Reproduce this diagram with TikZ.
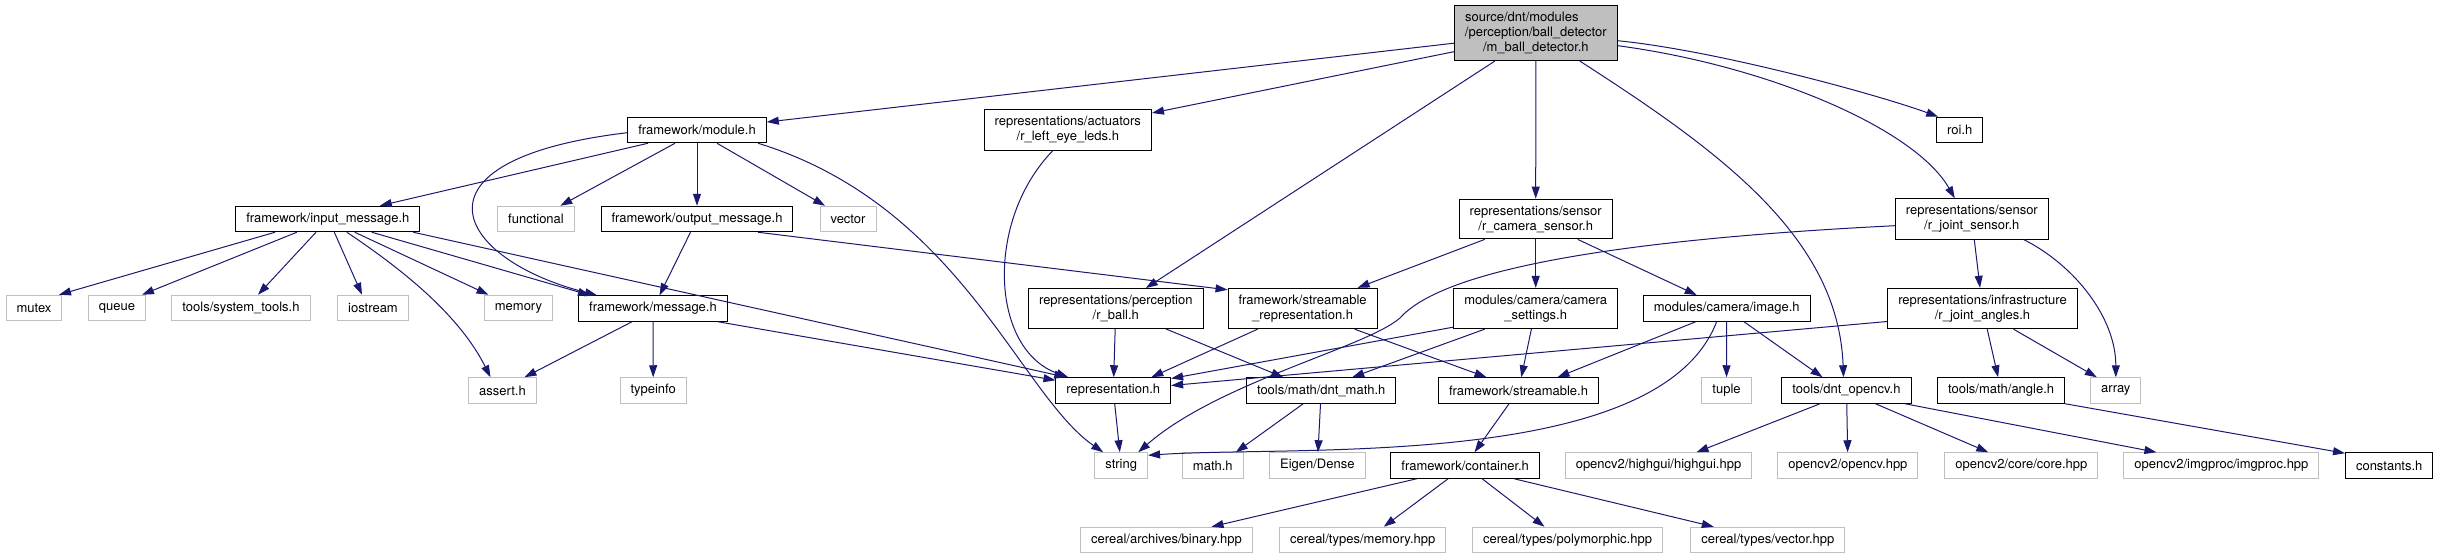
\documentclass[tikz,border=0pt]{standalone}
\usepackage{fontspec}
\setmainfont{TeX Gyre Heros}
\usetikzlibrary{arrows.meta}
\definecolor{edgeblue}{HTML}{191970}
\definecolor{grey75}{HTML}{BFBFBF}

\begin{document}
\begin{tikzpicture}[x=1pt,y=-1pt,
  file/.style={rectangle,draw=black,fill=white,line width=1pt,
               inner xsep=10.5pt,inner ysep=6.5pt,minimum height=25.5pt,
               align=center,font=\fontsize{13}{15}\selectfont},
  sysfile/.style={file,draw=grey75},
  mainfile/.style={file,fill=grey75},
  inc/.style={-{Triangle[length=12pt,width=8pt]},draw=edgeblue,line width=1pt}
]
  \useasboundingbox (0,0) rectangle (2440,559);

  % documented headers
  \node[mainfile] (main) at (1535.8,33.2)
    {source/dnt/modules\hspace*{28pt}\\/perception/ball\_detector\\/m\_ball\_detector.h};
  \node[file] (module) at (697,130) {framework/module.h};
  \node[file] (leds) at (1067.8,130) {representations/actuators\\/r\_left\_eye\_leds.h};
  \node[file] (roi) at (1959.8,130) {roi.h};
  \node[file] (inputmsg) at (327.8,219) {framework/input\_message.h};
  \node[file] (outputmsg) at (697,219) {framework/output\_message.h};
  \node[file] (camsensor) at (1535.7,219) {representations/sensor\\/r\_camera\_sensor.h};
  \node[file] (jointsensor) at (1971.8,219) {representations/sensor\\/r\_joint\_sensor.h};
  \node[file] (message) at (653,308.5) {framework/message.h};
  \node[file] (rball) at (1115.8,308.5) {representations/perception\\/r\_ball.h};
  \node[file] (streamrep) at (1302.6,308.5) {framework/streamable\\\_representation.h};
  \node[file] (camsettings) at (1535.7,308.5) {modules/camera/camera\\\_settings.h};
  \node[file] (image) at (1726.7,308.3) {modules/camera/image.h};
  \node[file] (jointangles) at (1982.5,308.5) {representations/infrastructure\\/r\_joint\_angles.h};
  \node[file] (repr) at (1113.3,390.5) {representation.h};
  \node[file] (dntmath) at (1321.2,390.5) {tools/math/dnt\_math.h};
  \node[file] (streamable) at (1518.5,390.5) {framework/streamable.h};
  \node[file] (dntopencv) at (1846.5,390.5) {tools/dnt\_opencv.h};
  \node[file] (angle) at (2001.1,390.5) {tools/math/angle.h};
  \node[file] (container) at (1465.1,465.5) {framework/container.h};
  \node[file] (constants) at (2389.2,465.5) {constants.h};

  % system and library headers
  \node[sysfile] (functional) at (536,219) {functional};
  \node[sysfile] (vector) at (848,219) {vector};
  \node[sysfile] (mutex) at (34,308) {mutex};
  \node[sysfile] (queue) at (117,308) {queue};
  \node[sysfile] (systools) at (241,308) {tools/system\_tools.h};
  \node[sysfile] (iostream) at (373,308) {iostream};
  \node[sysfile] (memory) at (518.5,308) {memory};
  \node[sysfile] (assert) at (502.5,390.5) {assert.h};
  \node[sysfile] (typeinfo) at (653.2,390.5) {typeinfo};
  \node[sysfile] (tuple) at (1726.5,390.5) {tuple};
  \node[sysfile] (array) at (2115.8,390.5) {array};
  \node[sysfile] (string) at (1121.2,465.5) {string};
  \node[sysfile] (mathh) at (1212.8,465.5) {math.h};
  \node[sysfile] (eigen) at (1317.3,465.5) {Eigen/Dense};
  \node[sysfile] (highgui) at (1658.5,465.5) {opencv2/highgui/highgui.hpp};
  \node[sysfile] (opencvhpp) at (1847.9,465.5) {opencv2/opencv.hpp};
  \node[sysfile] (core) at (2021.3,465.5) {opencv2/core/core.hpp};
  \node[sysfile] (imgproc) at (2221.4,465.5) {opencv2/imgproc/imgproc.hpp};
  \node[sysfile] (binary) at (1166.5,540) {cereal/archives/binary.hpp};
  \node[sysfile] (cmemory) at (1362.7,540) {cereal/types/memory.hpp};
  \node[sysfile] (cpoly) at (1567.5,540) {cereal/types/polymorphic.hpp};
  \node[sysfile] (cvector) at (1767.8,540) {cereal/types/vector.hpp};

  % includes of m_ball_detector.h
  \draw[inc] ([yshift=-10pt]main.west) -- (module);
  \draw[inc] ([yshift=-18.5pt]main.west) -- (leds);
  \draw[inc] ([xshift=-41pt]main.south) -- ([xshift=30pt]rball.north);
  \draw[inc] (main) -- (camsensor);
  \draw[inc] ([xshift=44pt]main.south) .. controls +(140,90) and +(-5,-140) .. ([xshift=-3pt]dntopencv.north);
  \draw[inc] ([yshift=-7.5pt]main.east) .. controls +(100,10) and +(-60,-22) .. ([xshift=2pt]roi.north west);
  \draw[inc] ([yshift=-12.5pt]main.east) .. controls +(150,20) and +(-40,-70) .. ([xshift=-17pt]jointsensor.north);

  % framework
  \draw[inc] ([xshift=-49pt]module.south) -- ([xshift=52pt]inputmsg.north);
  \draw[inc] ([xshift=-22pt]module.south) -- (functional);
  \draw[inc] (module) -- (outputmsg);
  \draw[inc] ([xshift=20pt]module.south) -- (vector);
  \draw[inc] ([yshift=-2.7pt]module.west) .. controls +(-227,27) and +(-142,-36) .. ([xshift=-56pt]message.north);
  \draw[inc] ([xshift=61pt]module.south) .. controls +(202,62) and +(-84,-58) .. ([xshift=-18pt]string.north);
  \draw[inc] ([xshift=-52.8pt]inputmsg.south) -- ([xshift=25pt]mutex.north);
  \draw[inc] ([xshift=-31pt]inputmsg.south) -- ([xshift=25pt]queue.north);
  \draw[inc] ([xshift=-11.8pt]inputmsg.south) -- ([xshift=17pt]systools.north);
  \draw[inc] ([xshift=6.5pt]inputmsg.south) -- ([xshift=-11pt]iostream.north);
  \draw[inc] ([xshift=19pt]inputmsg.south) .. controls +(60,40) and +(-30,-60) .. ([xshift=-12pt]assert.north);
  \draw[inc] ([xshift=27pt]inputmsg.south) -- ([xshift=-30pt]memory.north);
  \draw[inc] ([xshift=44pt]inputmsg.south) -- ([xshift=-63pt]message.north);
  \draw[inc] ([xshift=85.5pt]inputmsg.south) -- ([xshift=-47pt]repr.north);
  \draw[inc] (outputmsg) -- (message);
  \draw[inc] ([xshift=61pt]outputmsg.south) -- ([yshift=-2pt]streamrep.north west);
  \draw[inc] ([xshift=-21pt]message.south) -- ([xshift=22pt]assert.north);
  \draw[inc] (message) -- (typeinfo);
  \draw[inc] ([xshift=65pt]message.south) -- ([yshift=-3pt]repr.north west);

  % representations
  \draw[inc] ([xshift=-15pt]leds.south) .. controls +(-68,70) and +(-78,-28) .. ([xshift=-45pt]repr.north);
  \draw[inc] (rball) -- (repr);
  \draw[inc] ([xshift=50pt]rball.south) -- ([xshift=-38pt]dntmath.north);
  \draw[inc] ([xshift=-51pt]camsensor.south) -- ([xshift=55pt]streamrep.north);
  \draw[inc] (camsensor) -- (camsettings);
  \draw[inc] ([xshift=42pt]camsensor.south) -- ([xshift=-30pt]image.north);
  \draw[inc] ([xshift=-45pt]streamrep.south) -- ([xshift=38pt]repr.north);
  \draw[inc] ([xshift=52pt]streamrep.south) -- ([xshift=-32pt]streamable.north);
  \draw[inc] (camsettings) -- (streamable);
  \draw[inc] ([xshift=-51pt]camsettings.south) -- ([xshift=31pt]dntmath.north);
  \draw[inc] ([yshift=2pt]camsettings.south west) -- ([yshift=12pt]repr.east);
  \draw[inc] ([xshift=-30.5pt]image.south) -- ([xshift=39pt]streamable.north);
  \draw[inc] ([xshift=-10pt]image.south) .. controls +(-57,149) and +(151,-10) .. ([yshift=-3pt]string.north east);
  \draw[inc] (image) -- (tuple);
  \draw[inc] ([xshift=17pt]image.south) -- ([xshift=-24pt]dntopencv.north);
  \draw[inc] (jointsensor) -- (jointangles);
  \draw[inc] ([xshift=52pt]jointsensor.south) .. controls +(50,25) and +(0,-60) .. (array.north);
  \draw[inc] ([yshift=-6.7pt]jointsensor.west) .. controls +(-300,15) and +(40,-45) .. (1400,318)
    .. controls +(-35,30) and +(80,-70) .. ([xshift=17pt]string.north);
  \draw[inc] ([yshift=-13pt]jointangles.west) -- ([yshift=5pt]repr.east);
  \draw[inc] (jointangles) -- (angle);
  \draw[inc] ([xshift=31pt]jointangles.south) -- ([xshift=-19pt]array.north);

  % tools and containers
  \draw[inc] (repr) -- (string);
  \draw[inc] (streamable) -- (container);
  \draw[inc] ([xshift=-18pt]dntmath.south) -- ([xshift=23pt]mathh.north);
  \draw[inc] (dntmath) -- (eigen);
  \draw[inc] ([xshift=-26.5pt]dntopencv.south) -- ([xshift=38pt]highgui.north);
  \draw[inc] (dntopencv) -- (opencvhpp);
  \draw[inc] ([xshift=29pt]dntopencv.south) -- ([xshift=-33pt]core.north);
  \draw[inc] ([xshift=58.5pt]dntopencv.south) -- ([xshift=-65pt]imgproc.north);
  \draw[inc] (angle.south east) -- ([yshift=-1pt]constants.north west);
  \draw[inc] ([xshift=-48.4pt]container.south) -- ([xshift=45pt]binary.north);
  \draw[inc] ([xshift=-17pt]container.south) -- ([xshift=21pt]cmemory.north);
  \draw[inc] ([xshift=17pt]container.south) -- ([xshift=-23pt]cpoly.north);
  \draw[inc] ([xshift=49pt]container.south) -- ([xshift=-54pt]cvector.north);
\end{tikzpicture}
\end{document}
